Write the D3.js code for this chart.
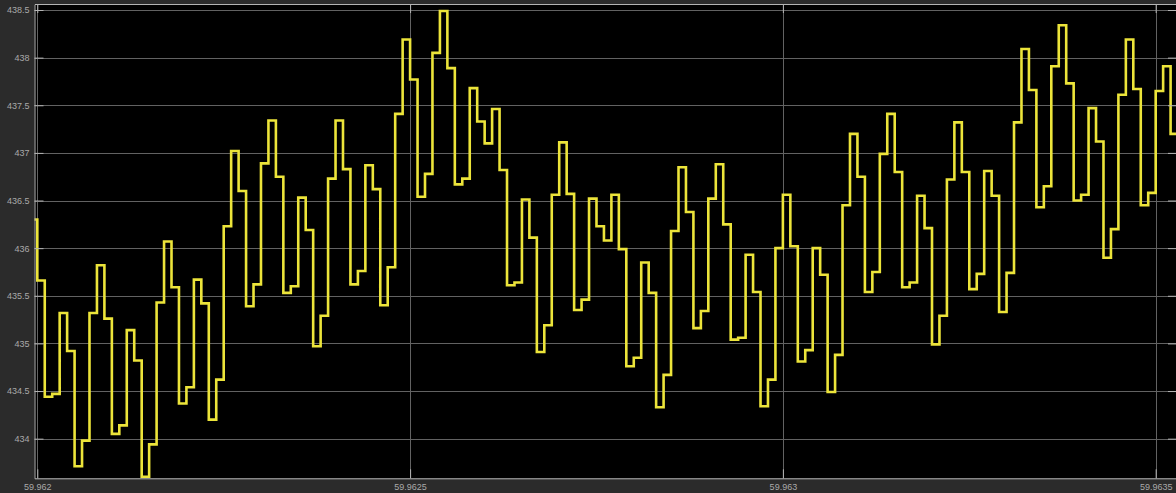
<!DOCTYPE html>
<html>
<head>
<meta charset="utf-8">
<script src="https://cdn.jsdelivr.net/npm/d3@7"></script>
<style>
  html, body { margin: 0; padding: 0; background: #2b2b2b; }
  svg { display: block; }
  .tick text { font-family: "Liberation Sans", Arial, sans-serif; font-size: 9px; fill: #a9a9a9; }
</style>
</head>
<body>
<svg id="chart" width="1176" height="493"></svg>
<script>
// Sampled signal: one value held for each 1e-5 s sample period
const sampleStart = 59.96199;
const sampleStep = 0.00001;
const signalValues = [
  436.30,
  435.66, 434.44, 434.47, 435.32, 434.92, 433.71, 433.98, 435.32, 435.82, 435.26,
  434.05, 434.14, 435.14, 434.82, 433.60, 433.94, 435.43, 436.07, 435.59, 434.37,
  434.54, 435.67, 435.42, 434.20, 434.62, 436.23, 437.02, 436.60, 435.39, 435.62,
  436.89, 437.34, 436.75, 435.53, 435.60, 436.53, 436.19, 434.97, 435.29, 436.73,
  437.34, 436.83, 435.62, 435.76, 436.87, 436.62, 435.40, 435.80, 437.41, 438.19,
  437.77, 436.54, 436.78, 438.05, 438.49, 437.89, 436.67, 436.73, 437.68, 437.33,
  437.10, 437.46, 436.82, 435.61, 435.64, 436.51, 436.11, 434.91, 435.19, 436.56,
  437.11, 436.57, 435.35, 435.46, 436.52, 436.23, 436.08, 436.56, 435.99, 434.76,
  434.85, 435.85, 435.53, 434.33, 434.67, 436.18, 436.85, 436.38, 435.16, 435.34,
  436.52, 436.88, 436.25, 435.04, 435.06, 435.93, 435.54, 434.34, 434.62, 436.00,
  436.56, 436.02, 434.81, 434.93, 436.00, 435.72, 434.49, 434.88, 436.45, 437.20,
  436.75, 435.54, 435.75, 436.99, 437.41, 436.80, 435.59, 435.64, 436.55, 436.21,
  434.99, 435.29, 436.72, 437.32, 436.80, 435.57, 435.73, 436.81, 436.55, 435.33,
  435.74, 437.32, 438.09, 437.66, 436.43, 436.65, 437.91, 438.34, 437.73, 436.50,
  436.56, 437.47, 437.12, 435.90, 436.20, 437.61, 438.19, 437.67, 436.45, 436.58,
  437.65, 437.91, 437.20
];

const xTickValues = [59.962, 59.9625, 59.963, 59.9635];
const xTickLabels = ["59.962", "59.9625", "59.963", "59.9635"];
const yTickValues = [434, 434.5, 435, 435.5, 436, 436.5, 437, 437.5, 438, 438.5];
const yTickLabels = ["434", "434.5", "435", "435.5", "436", "436.5", "437", "437.5", "438", "438.5"];

const xLimits = [59.96199624, 59.96352860];
const yLimits = [433.584, 438.563];

const svg = d3.select("#chart");
const plot = { left: 34.5, top: 4, right: 1177, bottom: 478.3 };

const x = d3.scaleLinear().domain(xLimits).range([plot.left, plot.right]);
const y = d3.scaleLinear().domain(yLimits).range([plot.bottom, plot.top]);

// Black axes area
svg.append("rect")
  .attr("x", plot.left).attr("y", plot.top)
  .attr("width", plot.right - plot.left).attr("height", plot.bottom - plot.top)
  .attr("fill", "#000");

svg.append("clipPath").attr("id", "plotClip")
  .append("rect")
  .attr("x", plot.left).attr("y", plot.top)
  .attr("width", plot.right - plot.left).attr("height", plot.bottom - plot.top);

// Grid
const grid = svg.append("g").attr("stroke", "#626262").attr("stroke-width", 1);
grid.selectAll("line.h").data(yTickValues).join("line")
  .attr("class", "h")
  .attr("x1", plot.left).attr("x2", plot.right)
  .attr("y1", d => Math.round(y(d)) + 0.5).attr("y2", d => Math.round(y(d)) + 0.5);
grid.selectAll("line.v").data(xTickValues).join("line")
  .attr("class", "v")
  .attr("y1", plot.top).attr("y2", plot.bottom)
  .attr("x1", d => Math.round(x(d)) + 0.5).attr("x2", d => Math.round(x(d)) + 0.5);

// Step signal
const points = signalValues.map((v, i) => [sampleStart + i * sampleStep, v]);
points.push([sampleStart + signalValues.length * sampleStep, signalValues[signalValues.length - 1]]);

const line = d3.line()
  .x(d => x(d[0]))
  .y(d => y(d[1]))
  .curve(d3.curveStepAfter);

svg.append("path")
  .datum(points)
  .attr("clip-path", "url(#plotClip)")
  .attr("fill", "none")
  .attr("stroke", "#ece43a")
  .attr("stroke-width", 2.6)
  .attr("stroke-linejoin", "miter")
  .attr("d", line);

// Axes with inward ticks (box style)
const axisColor = "#b4b4b4";
function styleAxis(g) {
  g.select(".domain").attr("stroke", axisColor);
  g.selectAll(".tick line").attr("stroke", axisColor);
}

svg.append("g")
  .attr("transform", `translate(0,${plot.bottom})`)
  .call(d3.axisBottom(x).tickValues(xTickValues)
    .tickFormat((d, i) => xTickLabels[i])
    .tickSizeInner(-9).tickSizeOuter(0).tickPadding(5.5))
  .call(styleAxis);

svg.append("g")
  .attr("transform", `translate(0,${plot.top})`)
  .call(d3.axisTop(x).tickValues(xTickValues).tickFormat("")
    .tickSizeInner(-9).tickSizeOuter(0))
  .call(styleAxis);

svg.append("g")
  .attr("transform", `translate(${plot.left},0)`)
  .call(d3.axisLeft(y).tickValues(yTickValues)
    .tickFormat((d, i) => yTickLabels[i])
    .tickSizeInner(-9).tickSizeOuter(0).tickPadding(5))
  .call(styleAxis);

svg.append("g")
  .attr("transform", `translate(${plot.right},0)`)
  .call(d3.axisRight(y).tickValues(yTickValues).tickFormat("")
    .tickSizeInner(-9).tickSizeOuter(0))
  .call(styleAxis);
</script>
</body>
</html>
